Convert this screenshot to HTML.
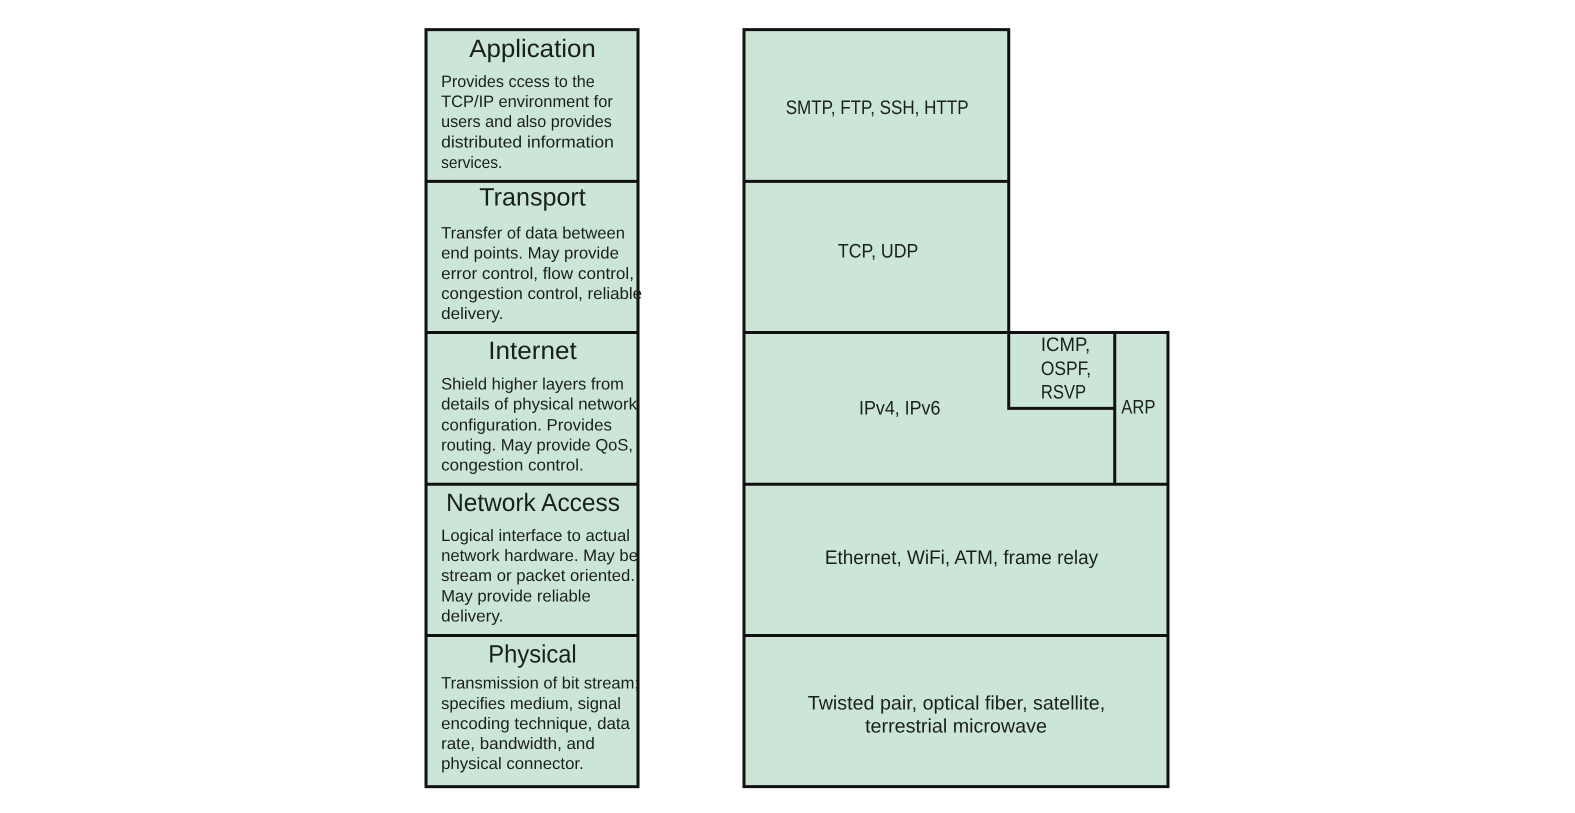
<!DOCTYPE html>
<html>
<head>
<meta charset="utf-8">
<style>
html,body{margin:0;padding:0;background:#fff;width:1575px;height:813px;overflow:hidden}
svg{display:block;filter:blur(.35px)}
text{font-family:"Liberation Sans",sans-serif;fill:#1a1f1c;text-rendering:geometricPrecision}
.t{font-size:25px}
.b{font-size:16.5px}
.c{font-size:19.5px}
</style>
</head>
<body>
<svg width="1575" height="813" viewBox="0 0 1567.6 809.2">
<g fill="#cbe6d6" stroke="#111" stroke-width="3">
<rect x="424" y="29.500" width="211" height="753.500"/>
<path d="M740.500 29.500H1004V331H1162.500V783H740.500Z"/>
</g>
<g fill="none" stroke="#111" stroke-width="3">
<path d="M424 180.500H635M424 331H635M424 482H635M424 632.500H635"/>
<path d="M740.500 180.500H1004M740.500 331H1004M740.500 482H1162.500M740.500 632.500H1162.500"/>
<path d="M1004 331V406.500H1109.500M1109.500 331V482"/>
</g>
<text class="t" x="467" y="56.500" textLength="126" lengthAdjust="spacingAndGlyphs">Application</text>
<text class="b" x="439" y="86.500" textLength="153" lengthAdjust="spacingAndGlyphs">Provides ccess to the</text>
<text class="b" x="439" y="106.500" textLength="171" lengthAdjust="spacingAndGlyphs">TCP/IP environment for</text>
<text class="b" x="439" y="126.500" textLength="170" lengthAdjust="spacingAndGlyphs">users and also provides</text>
<text class="b" x="439" y="147" textLength="172" lengthAdjust="spacingAndGlyphs">distributed information</text>
<text class="b" x="439" y="167" textLength="61" lengthAdjust="spacingAndGlyphs">services.</text>
<text class="t" x="477" y="204.500" textLength="106" lengthAdjust="spacingAndGlyphs">Transport</text>
<text class="b" x="439" y="237.500" textLength="183" lengthAdjust="spacingAndGlyphs">Transfer of data between</text>
<text class="b" x="439" y="257.500" textLength="177" lengthAdjust="spacingAndGlyphs">end points. May provide</text>
<text class="b" x="439" y="277.500" textLength="192" lengthAdjust="spacingAndGlyphs">error control, flow control,</text>
<text class="b" x="439" y="297.500" textLength="200" lengthAdjust="spacingAndGlyphs">congestion control, reliable</text>
<text class="b" x="439" y="317.500" textLength="62" lengthAdjust="spacingAndGlyphs">delivery.</text>
<text class="t" x="486" y="357.500" textLength="88" lengthAdjust="spacingAndGlyphs">Internet</text>
<text class="b" x="439" y="387.500" textLength="182" lengthAdjust="spacingAndGlyphs">Shield higher layers from</text>
<text class="b" x="439" y="407.500" textLength="195" lengthAdjust="spacingAndGlyphs">details of physical network</text>
<text class="b" x="439" y="428.500" textLength="170" lengthAdjust="spacingAndGlyphs">configuration. Provides</text>
<text class="b" x="439" y="448.500" textLength="191" lengthAdjust="spacingAndGlyphs">routing. May provide QoS,</text>
<text class="b" x="439" y="468.500" textLength="142" lengthAdjust="spacingAndGlyphs">congestion control.</text>
<text class="t" x="444" y="508.500" textLength="173" lengthAdjust="spacingAndGlyphs">Network Access</text>
<text class="b" x="439" y="538.500" textLength="188" lengthAdjust="spacingAndGlyphs">Logical interface to actual</text>
<text class="b" x="439" y="558.500" textLength="196" lengthAdjust="spacingAndGlyphs">network hardware. May be</text>
<text class="b" x="439" y="578.500" textLength="193" lengthAdjust="spacingAndGlyphs">stream or packet oriented.</text>
<text class="b" x="439" y="598.500" textLength="149" lengthAdjust="spacingAndGlyphs">May provide reliable</text>
<text class="b" x="439" y="618.500" textLength="62" lengthAdjust="spacingAndGlyphs">delivery.</text>
<text class="t" x="486" y="659.500" textLength="88" lengthAdjust="spacingAndGlyphs">Physical</text>
<text class="b" x="439" y="685.500" textLength="197" lengthAdjust="spacingAndGlyphs">Transmission of bit stream;</text>
<text class="b" x="439" y="705.500" textLength="179" lengthAdjust="spacingAndGlyphs">specifies medium, signal</text>
<text class="b" x="439" y="725.500" textLength="188" lengthAdjust="spacingAndGlyphs">encoding technique, data</text>
<text class="b" x="439" y="745.500" textLength="153" lengthAdjust="spacingAndGlyphs">rate, bandwidth, and</text>
<text class="b" x="439" y="765.500" textLength="142" lengthAdjust="spacingAndGlyphs">physical connector.</text>
<text class="c" x="782" y="113.500" textLength="182" lengthAdjust="spacingAndGlyphs">SMTP, FTP, SSH, HTTP</text>
<text class="c" x="834" y="256.500" textLength="80" lengthAdjust="spacingAndGlyphs">TCP, UDP</text>
<text class="c" x="855" y="412.500" textLength="81" lengthAdjust="spacingAndGlyphs">IPv4, IPv6</text>
<text class="c" x="1036" y="349.500" textLength="49" lengthAdjust="spacingAndGlyphs">ICMP,</text>
<text class="c" x="1036" y="373" textLength="50" lengthAdjust="spacingAndGlyphs">OSPF,</text>
<text class="c" x="1036" y="396.500" textLength="45" lengthAdjust="spacingAndGlyphs">RSVP</text>
<text class="c" x="1116" y="411.500" textLength="34" lengthAdjust="spacingAndGlyphs">ARP</text>
<text class="c" x="821" y="561.500" textLength="272" lengthAdjust="spacingAndGlyphs">Ethernet, WiFi, ATM, frame relay</text>
<text class="c" x="804" y="706" textLength="296" lengthAdjust="spacingAndGlyphs">Twisted pair, optical fiber, satellite,</text>
<text class="c" x="861" y="729" textLength="181" lengthAdjust="spacingAndGlyphs">terrestrial microwave</text>
</svg>
</body>
</html>
